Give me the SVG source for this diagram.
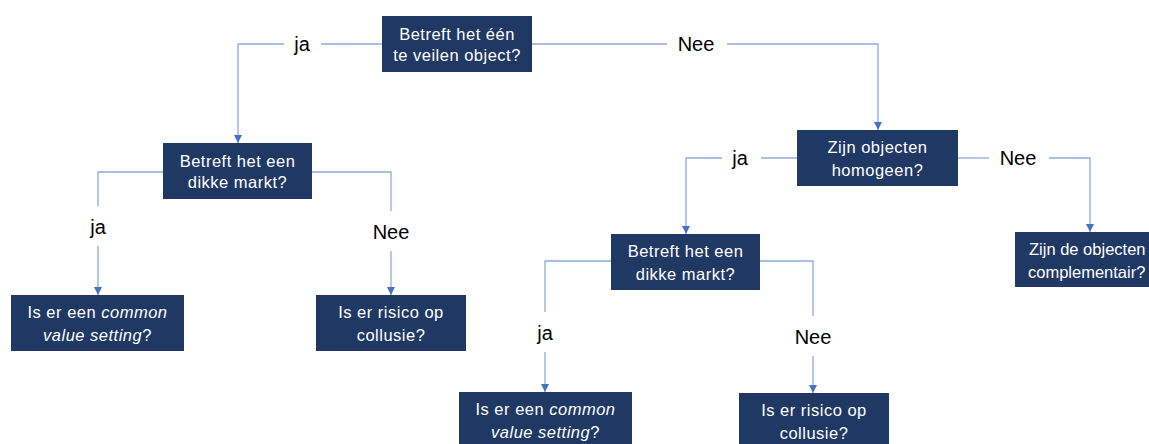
<svg xmlns="http://www.w3.org/2000/svg" width="1149" height="444" viewBox="0 0 1149 444">
<style>
.box{fill:#203864}
.nt{font-family:"Liberation Sans",Arial,sans-serif;font-size:16.5px;fill:#ffffff;text-anchor:middle;letter-spacing:0.5px}
.lbl{font-family:"Liberation Sans",Arial,sans-serif;font-size:20px;fill:#000000;text-anchor:middle}
.ln{fill:none;stroke:#8FAADC;stroke-width:1.3}
</style>
<defs>
<marker id="ah" viewBox="0 0 10 10" refX="10" refY="5" markerWidth="8" markerHeight="8" markerUnits="userSpaceOnUse" orient="auto">
<path d="M0,0 L10,5 L0,10 Z" fill="#4472C4"/>
</marker>
</defs>
<rect width="1149" height="444" fill="#ffffff"/>
<g id="connectors">
<path class="ln" d="M382,44 H321"/>
<path class="ln" d="M284,44 H238 V143" marker-end="url(#ah)"/>
<path class="ln" d="M532,44 H667"/>
<path class="ln" d="M727,44 H878 V130" marker-end="url(#ah)"/>
<path class="ln" d="M163,172 H98 V206"/>
<path class="ln" d="M98,246 V295" marker-end="url(#ah)"/>
<path class="ln" d="M312,172 H391 V211"/>
<path class="ln" d="M391,251 V295" marker-end="url(#ah)"/>
<path class="ln" d="M797,158 H761"/>
<path class="ln" d="M722,158 H686 V234" marker-end="url(#ah)"/>
<path class="ln" d="M958,158 H989"/>
<path class="ln" d="M1049,158 H1090 V232" marker-end="url(#ah)"/>
<path class="ln" d="M611,261 H545 V312"/>
<path class="ln" d="M545,352 V392" marker-end="url(#ah)"/>
<path class="ln" d="M760,261 H813 V316"/>
<path class="ln" d="M813,356 V393" marker-end="url(#ah)"/>
<text class="lbl" x="302" y="51">ja</text>
<text class="lbl" x="696" y="51">Nee</text>
<text class="lbl" x="98" y="234">ja</text>
<text class="lbl" x="391" y="239">Nee</text>
<text class="lbl" x="740" y="165">ja</text>
<text class="lbl" x="1018" y="165">Nee</text>
<text class="lbl" x="545" y="340">ja</text>
<text class="lbl" x="813" y="344">Nee</text>
</g>
<g id="n1">
<rect class="box" x="382" y="16" width="150" height="56"/>
<text class="nt" x="457" y="40">Betreft het één</text>
<text class="nt" x="457" y="61">te veilen object?</text>
</g>
<g id="n2">
<rect class="box" x="163" y="143" width="149" height="56"/>
<text class="nt" x="237.5" y="167">Betreft het een</text>
<text class="nt" x="237.5" y="188">dikke markt?</text>
</g>
<g id="n3">
<rect class="box" x="11" y="295" width="173" height="56"/>
<text class="nt" x="97.5" y="318">Is er een <tspan font-style="italic">common</tspan></text>
<text class="nt" x="97.5" y="341"><tspan font-style="italic">value setting</tspan>?</text>
</g>
<g id="n4">
<rect class="box" x="316" y="295" width="150" height="56"/>
<text class="nt" x="391" y="318">Is er risico op</text>
<text class="nt" x="391" y="341">collusie?</text>
</g>
<g id="n5">
<rect class="box" x="797" y="130" width="161" height="56"/>
<text class="nt" x="877.5" y="153">Zijn objecten</text>
<text class="nt" x="877.5" y="176">homogeen?</text>
</g>
<g id="n6">
<rect class="box" x="611" y="234" width="149" height="56"/>
<text class="nt" x="685.5" y="257">Betreft het een</text>
<text class="nt" x="685.5" y="280">dikke markt?</text>
</g>
<g id="n7">
<rect class="box" x="1015" y="232" width="150" height="55"/>
<text class="nt" x="1029" y="255" style="text-anchor:start;letter-spacing:0">Zijn de objecten</text>
<text class="nt" x="1028" y="278" style="text-anchor:start;letter-spacing:0">complementair?</text>
</g>
<g id="n8">
<rect class="box" x="459" y="392" width="173" height="56"/>
<text class="nt" x="545.5" y="415">Is er een <tspan font-style="italic">common</tspan></text>
<text class="nt" x="545.5" y="438"><tspan font-style="italic">value setting</tspan>?</text>
</g>
<g id="n9">
<rect class="box" x="739" y="393" width="150" height="56"/>
<text class="nt" x="814" y="416">Is er risico op</text>
<text class="nt" x="814" y="439">collusie?</text>
</g>
</svg>
